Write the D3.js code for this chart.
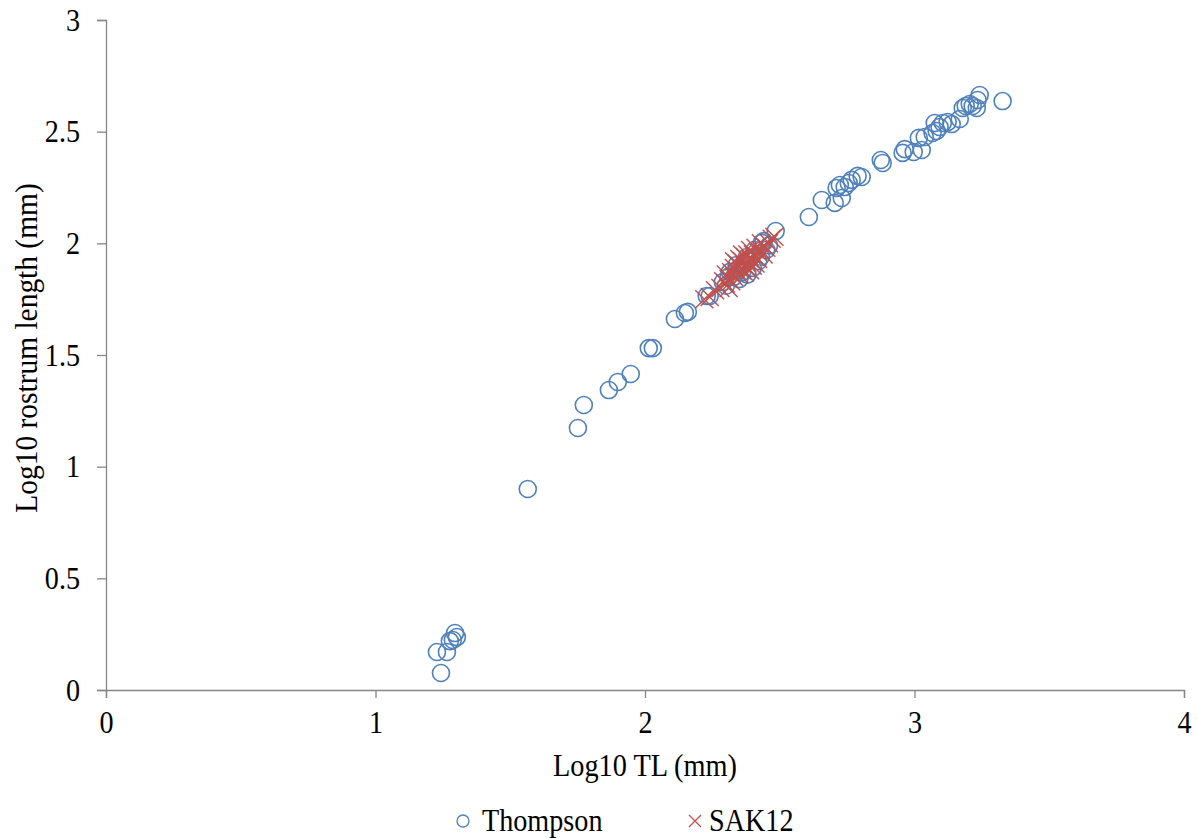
<!DOCTYPE html>
<html>
<head>
<meta charset="utf-8">
<script src="https://cdn.jsdelivr.net/npm/d3@7"></script>
<style>
  html, body { margin: 0; padding: 0; background: #fff; }
  text { font-family: "Liberation Serif", "Times New Roman", serif; fill: #000; }
</style>
</head>
<body>
<svg id="chart" width="1198" height="838"></svg>
<script>
// Thompson: [log10 TL, log10 rostrum length]
const thompsonX = [1.228,1.243,1.265,1.276,1.287,1.295,1.302,1.565,1.751,1.773,1.866,1.899,1.947,2.014,2.029,2.111,2.148,2.159,2.229,2.240,
  2.289,2.315,2.340,2.378,2.407,2.433,2.30,2.33,2.35,2.36,2.38,2.40,2.42,2.43,2.45,2.46,2.44,2.34,2.37,2.31,
  2.485,2.608,2.656,2.704,2.730,2.711,2.723,2.741,2.756,2.767,2.789,2.804,2.875,2.882,2.956,2.964,2.997,3.016,3.027,3.038,
  3.067,3.075,3.093,3.082,3.105,3.123,3.138,3.168,3.179,3.190,3.205,3.216,3.231,3.234,3.242,3.327];
const thompsonY = [0.170,0.076,0.170,0.219,0.224,0.255,0.237,0.900,1.173,1.276,1.343,1.379,1.415,1.531,1.531,1.661,1.688,1.693,1.764,1.764,
  1.827,1.872,1.903,1.939,1.970,2.002,1.81,1.85,1.84,1.87,1.86,1.89,1.92,1.94,1.97,1.99,2.01,1.88,1.91,1.85,
  2.055,2.118,2.194,2.181,2.203,2.248,2.261,2.252,2.270,2.284,2.302,2.297,2.373,2.360,2.405,2.422,2.409,2.472,2.418,2.476,
  2.494,2.539,2.521,2.503,2.539,2.543,2.534,2.557,2.606,2.615,2.624,2.615,2.606,2.642,2.664,2.637];
// SAK12
const sakX = [2.22,2.24,2.26,2.28,2.29,2.30,2.30,2.31,2.31,2.32,2.32,2.33,2.33,2.33,2.34,2.34,2.35,2.35,2.35,2.36,2.36,2.36,2.37,2.37,2.37,
  2.38,2.38,2.38,2.39,2.39,2.39,2.40,2.40,2.40,2.41,2.41,2.41,2.42,2.42,2.43,2.43,2.44,2.44,2.45,2.46,2.47,2.48];
const sakY = [1.75,1.76,1.79,1.80,1.83,1.82,1.86,1.84,1.80,1.87,1.83,1.89,1.85,1.92,1.88,1.91,1.86,1.90,1.93,1.88,1.92,1.95,1.90,1.87,1.94,
  1.91,1.95,1.89,1.93,1.97,1.88,1.92,1.95,1.90,1.94,1.98,1.91,1.96,1.93,1.97,2.00,1.95,1.99,1.98,2.00,2.02,2.03];
const xTicks = [0,1,2,3,4];
const yTicks = [0,0.5,1,1.5,2,2.5,3];
const xTitle = "Log10 TL (mm)";
const yTitle = "Log10 rostrum length (mm)";
const seriesNames = ["Thompson","SAK12"];

const svg = d3.select("#chart");
const mLeft = 106, mRight = 1184, mTop = 20, mBottom = 690;
const x = d3.scaleLinear().domain([0,4]).range([mLeft,mRight]);
const y = d3.scaleLinear().domain([0,3]).range([mBottom,mTop]);
const axisColor = "#868686";
const blue = "#4F81BD", red = "#C0504D";
const fs = 32;

function condense(sel, k) {
  sel.each(function() {
    const w = this.getComputedTextLength();
    d3.select(this).attr("textLength", w * k).attr("lengthAdjust", "spacingAndGlyphs");
  });
}

const gx = svg.append("g").attr("transform",`translate(0,${mBottom})`)
  .call(d3.axisBottom(x).tickValues(xTicks).tickFormat(d3.format("")).tickSizeOuter(0).tickSize(8).tickPadding(12));
const gy = svg.append("g").attr("transform",`translate(${mLeft},0)`)
  .call(d3.axisLeft(y).tickValues(yTicks).tickFormat(d => String(d)).tickSizeOuter(0).tickSize(9).tickPadding(17));
[gx,gy].forEach(g => {
  g.select(".domain").attr("stroke",axisColor).attr("stroke-width",1.3);
  g.selectAll(".tick line").attr("stroke",axisColor).attr("stroke-width",1.3);
  g.selectAll(".tick text").attr("font-family","Liberation Serif").attr("font-size",fs).attr("fill","#000");
  condense(g.selectAll(".tick text"), 0.88);
});

condense(svg.append("text").attr("x",645).attr("y",776).attr("text-anchor","middle").attr("font-size",fs).text(xTitle), 0.885);
condense(svg.append("text").attr("transform","translate(37,348) rotate(-90)").attr("text-anchor","middle").attr("font-size",fs).text(yTitle), 0.92);

const thompson = thompsonX.map((v,i)=>[v,thompsonY[i]]);
const sak = sakX.map((v,i)=>[v,sakY[i]]);
const R = 8.5;
svg.append("g").selectAll("circle").data(thompson).join("circle")
  .attr("cx",d=>x(d[0])).attr("cy",d=>y(d[1])).attr("r",R)
  .attr("fill","none").attr("stroke",blue).attr("stroke-width",1.6);
const S = 9;
svg.append("g").selectAll("path").data(sak).join("path")
  .attr("d",d=>{const cx=x(d[0]),cy=y(d[1]);return `M${cx-S},${cy-S}L${cx+S},${cy+S}M${cx-S},${cy+S}L${cx+S},${cy-S}`;})
  .attr("stroke",red).attr("stroke-width",1.4).attr("fill","none");

// legend
const lg = svg.append("g");
lg.append("circle").attr("cx",463).attr("cy",821).attr("r",6).attr("fill","none").attr("stroke",blue).attr("stroke-width",1.3);
condense(lg.append("text").attr("x",482).attr("y",831).attr("font-size",fs).text(seriesNames[0]), 0.88);
lg.append("path").attr("d","M689,815L701,827M689,827L701,815").attr("stroke",red).attr("stroke-width",1.3);
condense(lg.append("text").attr("x",709).attr("y",831).attr("font-size",fs).text(seriesNames[1]), 0.88);
</script>
</body>
</html>
